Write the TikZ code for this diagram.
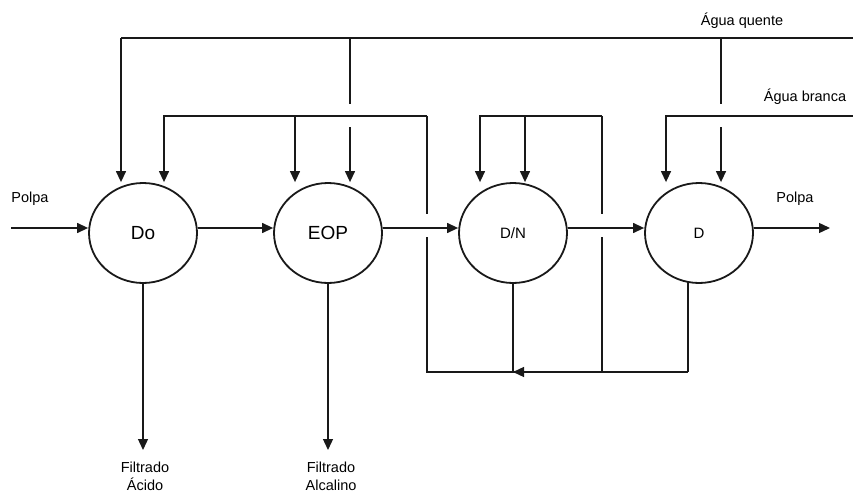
\documentclass[tikz,border=0pt]{standalone}
\usepackage{fontspec}
\setmainfont{Liberation Sans}
\usetikzlibrary{shapes.geometric,arrows.meta}
\begin{document}
\begin{tikzpicture}[x=1pt,y=-1pt,
  line/.style={draw=black!90,line width=1.3pt},
  arr/.style={line,-{Triangle[length=11pt,width=10pt]}},
  stage/.style={draw=black!90,line width=1.8pt,ellipse,minimum width=108pt,minimum height=100pt,inner sep=0pt},
  lbl/.style={font=\fontsize{14.5}{18}\selectfont,inner sep=0pt,align=center}]
\useasboundingbox (0,0) rectangle (853,492);
% stages
\node[stage,font=\fontsize{19}{20}\selectfont] (Do) at (143,233) {Do};
\node[stage,font=\fontsize{19}{20}\selectfont] (EOP) at (328,233) {EOP};
\node[stage,font=\fontsize{15}{16}\selectfont] (DN) at (513,233) {D/N};
\node[stage,font=\fontsize{15}{16}\selectfont] (D) at (699,233) {D};
% labels
\node[lbl] (pin) at (30,199) {Polpa};
\node[lbl] (pout) at (795,199) {Polpa};
\node[lbl] (aq) at (742,21) {Água quente};
\node[lbl] (ab) at (805,97) {Água branca};
\node[lbl] (fa) at (145,476) {Filtrado\\Ácido};
\node[lbl] (fb) at (331,476) {Filtrado\\Alcalino};
% coordinates
\coordinate (in) at (11,228);
\coordinate (out) at (830,228);
\coordinate (q0) at (853,38);
\coordinate (q1) at (121,38);
\coordinate (q2) at (350,38);
\coordinate (q2a) at (350,104);
\coordinate (q2b) at (350,127);
\coordinate (q3) at (721,38);
\coordinate (q3a) at (721,104);
\coordinate (q3b) at (721,127);
\coordinate (r1) at (164,116);
\coordinate (r2) at (295,116);
\coordinate (r3) at (427,116);
\coordinate (r3a) at (427,214);
\coordinate (r3b) at (427,237);
\coordinate (r4) at (427,372);
\coordinate (s1) at (480,116);
\coordinate (s2) at (525,116);
\coordinate (s3) at (602,116);
\coordinate (s3a) at (602,214);
\coordinate (s3b) at (602,237);
\coordinate (s4) at (602,372);
\coordinate (b1) at (666,116);
\coordinate (b0) at (853,116);
\coordinate (dnb) at (513,372);
\coordinate (db) at (688,282);
\coordinate (dbb) at (688,372);
\coordinate (fae) at (143,450);
\coordinate (fbe) at (328,450);
% main pulp line
\draw[arr] (in) -- ([yshift=5pt]Do.west);
\draw[arr] ([yshift=5pt]Do.east) -- ([yshift=5pt]EOP.west);
\draw[arr] ([yshift=5pt]EOP.east) -- ([yshift=5pt]DN.west);
\draw[arr] ([yshift=5pt]DN.east) -- ([yshift=5pt]D.west);
\draw[arr] ([yshift=5pt]D.east) -- (out);
% hot water
\draw[line] (q0) -- (q1);
\draw[arr] (q1) -- (q1 |- Do.north);
\draw[line] (q2) -- (q2a);
\draw[arr] (q2b) -- (q2b |- EOP.north);
\draw[line] (q3) -- (q3a);
\draw[arr] (q3b) -- (q3b |- D.north);
% recycle to Do and EOP
\draw[arr] (r3) -- (r1) -- (r1 |- Do.north);
\draw[arr] (r2) -- (r2 |- EOP.north);
\draw[line] (r3) -- (r3a);
\draw[line] (r3b) -- (r4) -- (dbb);
% recycle to D/N
\draw[arr] (s3) -- (s1) -- (s1 |- DN.north);
\draw[arr] (s2) -- (s2 |- DN.north);
\draw[line] (s3) -- (s3a);
\draw[line] (s3b) -- (s4);
% white water
\draw[arr] (b0) -- (b1) -- (b1 |- D.north);
% filtrates
\draw[line] (DN.south) -- (dnb);
\draw[line] (db) -- (dbb);
\draw[arr] (s4) -- (dnb);
\draw[arr] (Do.south) -- (fae);
\draw[arr] (EOP.south) -- (fbe);
\end{tikzpicture}
\end{document}
